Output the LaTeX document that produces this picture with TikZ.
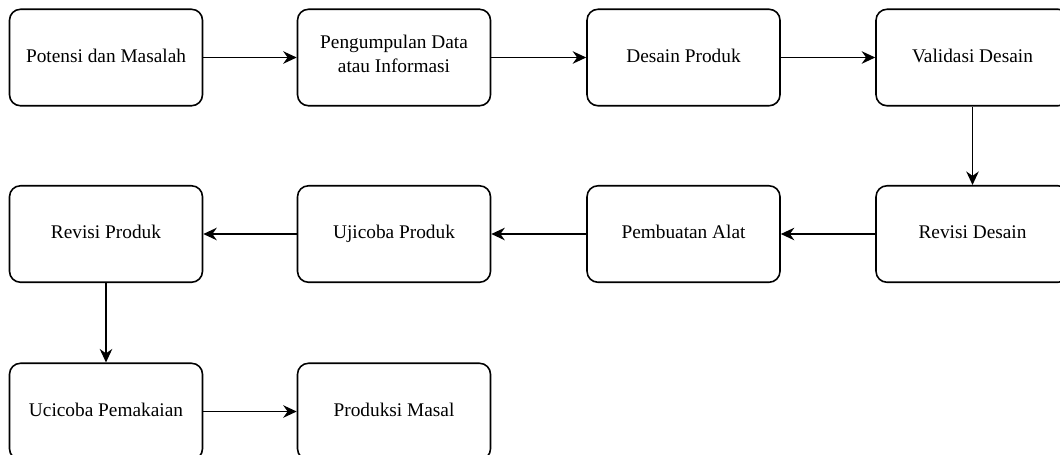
\documentclass[tikz,border=0pt]{standalone}
\usepackage{fontspec}
\setmainfont{Liberation Serif}
\usetikzlibrary{arrows.meta}

\tikzset{
	tahap/.style={draw, line width=0.9pt, rounded corners=0.22cm, minimum width=3.86cm,
		minimum height=1.93cm, align=center, font=\fontsize{11}{13.5}\selectfont,
		execute at begin node=\strut, execute at end node=\strut},
	panah/.style={line width=0.85pt, -{Stealth[length=2.7mm,width=2.5mm]}}
}

\begin{document}
\begin{tikzpicture}
	\useasboundingbox (0,0) rectangle (21.2,-9.08);
	% baris pertama
	\node[tahap] (potensi) at (2.12,-1.15) {Potensi dan Masalah};
	\node[tahap] (data) at (7.88,-1.15) {Pengumpulan Data\\atau Informasi};
	\node[tahap] (desain) at (13.67,-1.15) {Desain Produk};
	\node[tahap] (validasi) at (19.45,-1.15) {Validasi Desain};
	% baris kedua
	\node[tahap] (revdesain) at (19.45,-4.68) {Revisi Desain};
	\node[tahap] (alat) at (13.67,-4.68) {Pembuatan Alat};
	\node[tahap] (ujicoba) at (7.88,-4.68) {Ujicoba Produk};
	\node[tahap] (revproduk) at (2.12,-4.68) {Revisi Produk};
	% baris ketiga
	\node[tahap] (pemakaian) at (2.12,-8.23) {Ucicoba Pemakaian};
	\node[tahap] (masal) at (7.88,-8.23) {Produksi Masal};

	\draw[panah] (potensi) -- (data);
	\draw[panah] (data) -- (desain);
	\draw[panah] (desain) -- (validasi);
	\draw[panah] (validasi) -- (revdesain);
	\draw[panah] (revdesain) -- (alat);
	\draw[panah] (alat) -- (ujicoba);
	\draw[panah] (ujicoba) -- (revproduk);
	\draw[panah] (revproduk) -- (pemakaian);
	\draw[panah] (pemakaian) -- (masal);
\end{tikzpicture}
\end{document}
